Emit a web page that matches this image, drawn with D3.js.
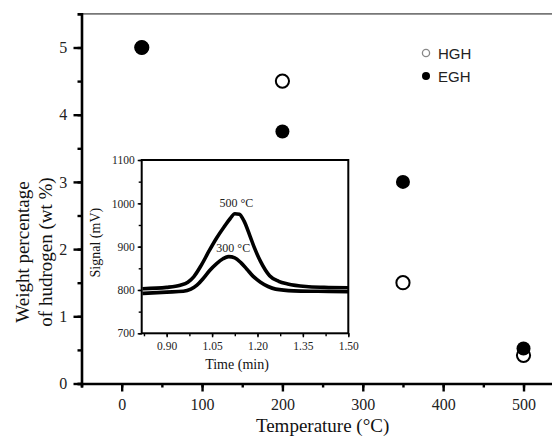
<!DOCTYPE html>
<html><head><meta charset="utf-8">
<script src="https://cdn.jsdelivr.net/npm/d3@7"></script>
<style>
html,body{margin:0;padding:0;background:#fff;}
svg{display:block;}
</style></head>
<body>
<svg id="chart" width="552" height="436"></svg>
<script>
// ---- Main chart data ----
const temperatures = [25, 200, 350, 500];
const hghValues = [5.0, 4.5, 1.5, 0.42];
const eghValues = [5.0, 3.75, 3.0, 0.52];
const seriesNames = ["HGH", "EGH"];
const xTickValues = [0, 100, 200, 300, 400, 500];
const yTickValues = [0, 1, 2, 3, 4, 5];

// ---- Inset data (TPD signal) ----
const time500 = [0.82, 0.90, 0.945, 0.97, 0.99, 1.015, 1.04, 1.065, 1.09, 1.11, 1.125, 1.14, 1.155, 1.175, 1.19, 1.21, 1.24, 1.27, 1.30, 1.36, 1.42, 1.50];
const signal500 = [803, 806, 811, 818, 831, 858, 890, 920, 946, 965, 976, 975, 960, 925, 897, 866, 833, 820, 814, 808, 806, 805];
const time300 = [0.82, 0.90, 0.955, 0.98, 1.00, 1.02, 1.042, 1.065, 1.086, 1.105, 1.125, 1.145, 1.165, 1.185, 1.21, 1.235, 1.26, 1.32, 1.40, 1.50];
const signal300 = [792, 795, 797, 802, 811, 826, 845, 861, 872, 877, 874, 863, 848, 832, 818, 808, 802, 798, 797, 796];
const insetXTicks = [0.90, 1.05, 1.20, 1.35, 1.50];
const insetYTicks = [700, 800, 900, 1000, 1100];
const curveLabels = ["500 °C", "300 °C"];

const serif = "'Liberation Serif', 'Times New Roman', serif";
const sans = "'Liberation Sans', Arial, sans-serif";

const svg = d3.select("#chart");

// Scales (main)
const x = d3.scaleLinear().domain([-50, 550]).range([81.5, 563.7]);
const y = d3.scaleLinear().domain([0, 5.5]).range([383.5, 13.9]);

// top border (gray)
svg.append("line").attr("x1", x(-50)).attr("x2", 552).attr("y1", y(5.5)).attr("y2", y(5.5))
  .attr("stroke", "#777").attr("stroke-width", 1.6);

// X axis
const xAxisG = svg.append("g").attr("transform", `translate(0,${y(0)})`);
xAxisG.call(d3.axisBottom(x).tickValues(d3.range(-50, 551, 50)).tickSize(4).tickFormat(""));
xAxisG.append("g").call(d3.axisBottom(x).tickValues(xTickValues).tickSize(8).tickFormat(d3.format("d")))
  .call(g => g.select(".domain").remove());
xAxisG.selectAll(".domain").attr("stroke", "#000").attr("stroke-width", 2.6);
xAxisG.selectAll(".tick line").attr("stroke", "#000").attr("stroke-width", 2.4);
xAxisG.selectAll(".tick text").attr("font-family", serif).attr("font-size", 16).attr("fill", "#222").attr("dy", "0.95em");

// Y axis
const yAxisG = svg.append("g").attr("transform", `translate(${x(-50)},0)`);
yAxisG.call(d3.axisLeft(y).tickValues(d3.range(0, 5.01, 0.5)).tickSize(4).tickFormat(""));
yAxisG.append("g").call(d3.axisLeft(y).tickValues(yTickValues).tickSize(8).tickFormat(d3.format("d")))
  .call(g => g.select(".domain").remove());
yAxisG.selectAll(".domain").attr("stroke", "#000").attr("stroke-width", 2.6);
yAxisG.selectAll(".tick line").attr("stroke", "#000").attr("stroke-width", 2.4);
yAxisG.selectAll(".tick text").attr("font-family", serif).attr("font-size", 16).attr("fill", "#222").attr("dx", "-0.2em");

// Axis titles
svg.append("text").attr("x", (x(-50) + x(550)) / 2).attr("y", 432)
  .attr("text-anchor", "middle").attr("font-family", serif).attr("font-size", 19).attr("fill", "#111")
  .text("Temperature (°C)");
const yTitle = svg.append("text").attr("transform", "translate(0,252) rotate(-90)")
  .attr("text-anchor", "middle").attr("font-family", serif).attr("font-size", 19).attr("fill", "#111");
yTitle.append("tspan").attr("x", 0).attr("y", 29).text("Weight percentage");
yTitle.append("tspan").attr("x", 0).attr("y", 52).text("of hudrogen (wt %)");

// Data points: open (HGH) first, filled (EGH) on top
svg.append("g").selectAll("circle").data(temperatures).join("circle")
  .attr("cx", (d) => x(d)).attr("cy", (d, i) => y(hghValues[i])).attr("r", 6.6)
  .attr("fill", "#fff").attr("stroke", "#000").attr("stroke-width", 2);
svg.append("g").selectAll("circle").data(temperatures).join("circle")
  .attr("cx", (d) => x(d)).attr("cy", (d, i) => y(eghValues[i])).attr("r", 7)
  .attr("fill", "#000");

// Legend
const legend = svg.append("g");
legend.append("circle").attr("cx", 426).attr("cy", 53).attr("r", 3.6).attr("fill", "#fff").attr("stroke", "#888").attr("stroke-width", 1.3);
legend.append("circle").attr("cx", 426).attr("cy", 76).attr("r", 4).attr("fill", "#000");
legend.append("text").attr("x", 438).attr("y", 58.5).attr("font-family", sans).attr("font-size", 15).attr("fill", "#222").text(seriesNames[0]);
legend.append("text").attr("x", 438).attr("y", 81.5).attr("font-family", sans).attr("font-size", 15).attr("fill", "#222").text(seriesNames[1]);

// ---- Inset ----
const ix = d3.scaleLinear().domain([0.8175, 1.50]).range([141.7, 348.3]);
const iy = d3.scaleLinear().domain([700, 1100]).range([333.3, 160]);
const inset = svg.append("g");
inset.append("rect").attr("x", ix(0.8175)).attr("y", iy(1100))
  .attr("width", ix(1.5) - ix(0.8175)).attr("height", iy(700) - iy(1100))
  .attr("fill", "#fff").attr("stroke", "#000").attr("stroke-width", 2);

const ixAxis = inset.append("g").attr("transform", `translate(0,${iy(700)})`);
ixAxis.call(d3.axisBottom(ix).tickValues(d3.range(0.825, 1.51, 0.075)).tickSize(3).tickFormat(""));
ixAxis.append("g").call(d3.axisBottom(ix).tickValues(insetXTicks).tickSize(4).tickFormat(d3.format(".2f")))
  .call(g => g.select(".domain").remove());
ixAxis.selectAll(".domain").remove();
ixAxis.selectAll(".tick line").attr("stroke", "#000").attr("stroke-width", 1.4);
ixAxis.selectAll(".tick text").attr("font-family", serif).attr("font-size", 11.5).attr("fill", "#222").attr("dy", "0.85em");

const iyAxis = inset.append("g").attr("transform", `translate(${ix(0.8175)},0)`);
iyAxis.call(d3.axisLeft(iy).tickValues(d3.range(700, 1101, 50)).tickSize(3).tickFormat(""));
iyAxis.append("g").call(d3.axisLeft(iy).tickValues(insetYTicks).tickSize(4).tickFormat(d3.format("d")))
  .call(g => g.select(".domain").remove());
iyAxis.selectAll(".domain").remove();
iyAxis.selectAll(".tick line").attr("stroke", "#000").attr("stroke-width", 1.4);
iyAxis.selectAll(".tick text").attr("font-family", serif).attr("font-size", 11.5).attr("fill", "#222");

inset.append("text").attr("x", (ix(0.8175) + ix(1.5)) / 2 - 8).attr("y", 369)
  .attr("text-anchor", "middle").attr("font-family", serif).attr("font-size", 14).attr("fill", "#111")
  .text("Time (min)");
inset.append("text").attr("transform", `translate(100,${(iy(700) + iy(1100)) / 2 - 4}) rotate(-90)`)
  .attr("text-anchor", "middle").attr("font-family", serif).attr("font-size", 14).attr("fill", "#111")
  .text("Signal (mV)");

const line = d3.line().x(d => ix(d[0])).y(d => iy(d[1])).curve(d3.curveMonotoneX);
inset.append("path").datum(time500.map((t, i) => [t, signal500[i]])).attr("d", line)
  .attr("fill", "none").attr("stroke", "#000").attr("stroke-width", 3.6);
inset.append("path").datum(time300.map((t, i) => [t, signal300[i]])).attr("d", line)
  .attr("fill", "none").attr("stroke", "#000").attr("stroke-width", 3.6);

inset.append("text").attr("x", ix(1.13)).attr("y", iy(991)).attr("text-anchor", "middle")
  .attr("font-family", serif).attr("font-size", 12).attr("fill", "#222").text(curveLabels[0]);
inset.append("text").attr("x", ix(1.12)).attr("y", iy(888)).attr("text-anchor", "middle")
  .attr("font-family", serif).attr("font-size", 12).attr("fill", "#222").text(curveLabels[1]);
</script>
</body></html>
